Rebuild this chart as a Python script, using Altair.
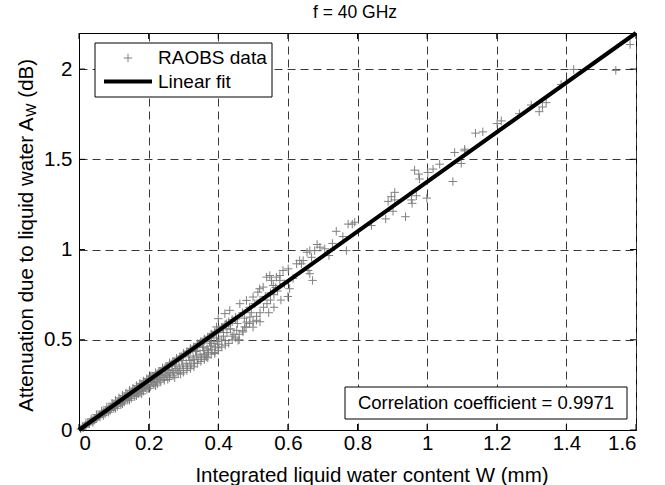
import altair as alt
import pandas as pd

FONT = "Liberation Sans"

# RAOBS scatter data: integrated liquid water W (mm) and attenuation A_W (dB)
raobs_w = [
    0.005, 0.010, 0.012, 0.018, 0.020, 0.025, 0.028, 0.030, 0.034, 0.037, 0.040, 0.043, 0.046, 0.050, 0.052,
    0.055, 0.058, 0.060, 0.063, 0.066, 0.068, 0.070, 0.073, 0.076, 0.078, 0.080, 0.083, 0.086, 0.088, 0.090,
    0.093, 0.096, 0.098, 0.100, 0.102, 0.105, 0.108, 0.110, 0.112, 0.115, 0.118, 0.120, 0.122, 0.125, 0.128,
    0.130, 0.132, 0.135, 0.138, 0.140, 0.142, 0.145, 0.148, 0.150, 0.152, 0.155, 0.158, 0.160, 0.163, 0.165,
    0.168, 0.170, 0.172, 0.175, 0.178, 0.180, 0.182, 0.185, 0.188, 0.190, 0.192, 0.195, 0.198, 0.200, 0.200,
    0.150, 0.180, 0.190,
    0.205, 0.208, 0.210, 0.212, 0.215, 0.218, 0.220, 0.222, 0.225, 0.228, 0.230, 0.232, 0.235, 0.238, 0.240,
    0.242, 0.245, 0.248, 0.250, 0.252, 0.255, 0.258, 0.260, 0.262, 0.265, 0.268, 0.270, 0.272, 0.275, 0.278,
    0.280, 0.282, 0.285, 0.288, 0.290, 0.292, 0.295, 0.298, 0.300, 0.300, 0.255, 0.270, 0.285,
    0.305, 0.308, 0.310, 0.312, 0.315, 0.318, 0.320, 0.322, 0.325, 0.328, 0.330, 0.332, 0.335, 0.338, 0.340,
    0.342, 0.345, 0.348, 0.350, 0.352, 0.355, 0.358, 0.360, 0.362, 0.365, 0.368, 0.370, 0.372, 0.375, 0.378,
    0.380, 0.382, 0.385, 0.388, 0.390, 0.392, 0.395, 0.398, 0.400, 0.402, 0.405, 0.410, 0.412, 0.415, 0.420,
    0.425, 0.430, 0.435, 0.440, 0.445, 0.450,
    0.514, 0.500, 0.481, 0.462, 0.510, 0.491, 0.476, 0.471, 0.453, 0.481, 0.457, 0.433, 0.419, 0.424, 0.400,
    0.395, 0.376, 0.381, 0.371, 0.357, 0.347, 0.366, 0.390, 0.338,
    0.773, 0.758, 0.739, 0.768, 0.728, 0.718, 0.706, 0.692, 0.677, 0.684, 0.663, 0.655, 0.668, 0.644, 0.634,
    0.625, 0.639, 0.663, 0.671, 0.658, 0.601, 0.586, 0.577, 0.567, 0.548, 0.539, 0.553, 0.577, 0.605, 0.558,
    0.529, 0.519,
    1.079, 1.108, 1.098, 1.074, 1.036, 1.017, 1.002, 0.978, 0.976, 0.964, 0.999, 0.969, 0.955, 0.957, 0.938,
    0.907, 0.897, 0.888, 0.907, 0.902, 0.881, 0.840, 0.792, 0.785,
    1.583, 1.542, 1.421, 1.385, 1.342, 1.331, 1.322, 1.299, 1.265, 1.213, 1.201, 1.160, 1.139, 1.108,
    # lower part of the band
    0.030, 0.045, 0.060, 0.075, 0.090, 0.100, 0.110, 0.120, 0.130, 0.140, 0.150, 0.160, 0.170, 0.175, 0.185,
    0.195, 0.205, 0.215, 0.225, 0.235, 0.245, 0.260, 0.275, 0.290, 0.300, 0.310, 0.320, 0.330, 0.340, 0.350,
    0.360, 0.370, 0.380, 0.390, 0.400, 0.410, 0.420, 0.430, 0.440, 0.450, 0.460, 0.470, 0.480, 0.490, 0.500,
    0.510, 0.520, 0.530, 0.540, 0.550, 0.560, 0.570,
    # upper part of the band
    0.210, 0.230, 0.250, 0.270, 0.290, 0.310, 0.330, 0.350, 0.370, 0.390, 0.410, 0.430, 0.450, 0.470, 0.490,
    0.505, 0.520, 0.535, 0.550, 0.565, 0.590, 0.615,
    # middle of the band
    0.215, 0.235, 0.255, 0.275, 0.295, 0.315, 0.335, 0.355, 0.375, 0.395, 0.415, 0.435, 0.455, 0.475, 0.495,
    # lower outliers
    0.330, 0.360, 0.400, 0.420, 0.440, 0.460, 0.500, 0.520, 0.545, 0.560, 0.580, 0.600,
    # above the fit line, small W
    0.020, 0.035, 0.050, 0.065, 0.080, 0.095, 0.105, 0.115, 0.125, 0.135, 0.145, 0.155, 0.165, 0.175, 0.185,
    0.195, 0.205, 0.220, 0.240, 0.260, 0.280, 0.300, 0.320, 0.340, 0.360, 0.380, 0.400, 0.420, 0.440,
    # below the fit line, small W
    0.040, 0.070, 0.085, 0.105, 0.125, 0.145, 0.165, 0.180, 0.200, 0.220,
]
raobs_a = [
    0.006, 0.015, 0.013, 0.026, 0.025, 0.036, 0.035, 0.040, 0.048, 0.050, 0.053, 0.060, 0.061, 0.070, 0.068,
    0.078, 0.077, 0.085, 0.083, 0.093, 0.090, 0.100, 0.097, 0.107, 0.100, 0.113, 0.110, 0.120, 0.113, 0.127,
    0.122, 0.135, 0.128, 0.140, 0.130, 0.148, 0.140, 0.155, 0.145, 0.162, 0.152, 0.170, 0.158, 0.175, 0.165,
    0.183, 0.170, 0.190, 0.178, 0.196, 0.182, 0.203, 0.190, 0.210, 0.195, 0.218, 0.200, 0.225, 0.210, 0.232,
    0.215, 0.238, 0.220, 0.245, 0.228, 0.252, 0.233, 0.258, 0.240, 0.266, 0.245, 0.272, 0.252, 0.280, 0.262,
    0.190, 0.220, 0.235,
    0.285, 0.270, 0.292, 0.262, 0.298, 0.280, 0.305, 0.270, 0.312, 0.290, 0.318, 0.280, 0.325, 0.300, 0.332,
    0.290, 0.340, 0.310, 0.346, 0.300, 0.352, 0.320, 0.360, 0.310, 0.366, 0.330, 0.372, 0.320, 0.378, 0.340,
    0.385, 0.330, 0.392, 0.350, 0.400, 0.310, 0.405, 0.360, 0.412, 0.340, 0.280, 0.300, 0.315,
    0.420, 0.370, 0.425, 0.350, 0.432, 0.385, 0.440, 0.360, 0.447, 0.400, 0.453, 0.370, 0.460, 0.410, 0.466,
    0.390, 0.474, 0.420, 0.480, 0.400, 0.488, 0.440, 0.495, 0.410, 0.500, 0.450, 0.508, 0.430, 0.515, 0.465,
    0.522, 0.445, 0.528, 0.480, 0.536, 0.460, 0.542, 0.490, 0.550, 0.475, 0.557, 0.500, 0.565, 0.520, 0.575,
    0.540, 0.590, 0.560, 0.600, 0.530, 0.615,
    0.764, 0.737, 0.718, 0.700, 0.608, 0.626, 0.571, 0.543, 0.552, 0.598, 0.497, 0.663, 0.645, 0.589, 0.617,
    0.571, 0.515, 0.479, 0.442, 0.460, 0.479, 0.405, 0.424, 0.442,
    1.141, 1.072, 1.101, 0.994, 1.034, 0.967, 1.004, 1.013, 0.994, 1.028, 0.994, 0.985, 0.957, 0.939, 0.939,
    0.921, 0.921, 0.866, 0.829, 0.884, 0.893, 0.884, 0.856, 0.847, 0.856, 0.847, 0.829, 0.829, 0.783, 0.801,
    0.792, 0.783,
    1.538, 1.547, 1.477, 1.377, 1.473, 1.446, 1.427, 1.391, 1.418, 1.440, 1.285, 1.298, 1.275, 1.256, 1.182,
    1.317, 1.293, 1.267, 1.275, 1.212, 1.170, 1.133, 1.151, 1.141,
    2.136, 1.993, 1.998, 1.915, 1.814, 1.790, 1.764, 1.801, 1.753, 1.713, 1.698, 1.652, 1.645, 1.556,
    # lower part of the band
    0.035, 0.055, 0.072, 0.090, 0.108, 0.120, 0.130, 0.140, 0.155, 0.165, 0.175, 0.185, 0.200, 0.205, 0.215,
    0.225, 0.240, 0.250, 0.255, 0.265, 0.275, 0.290, 0.290, 0.330, 0.320, 0.330, 0.340, 0.350, 0.370, 0.380,
    0.390, 0.400, 0.420, 0.430, 0.440, 0.460, 0.470, 0.480, 0.500, 0.510, 0.530, 0.550, 0.570, 0.590, 0.600,
    0.630, 0.650, 0.680, 0.700, 0.720, 0.750, 0.770,
    # upper part of the band
    0.300, 0.325, 0.350, 0.380, 0.405, 0.435, 0.460, 0.490, 0.515, 0.545, 0.570, 0.600, 0.625, 0.650, 0.680,
    0.700, 0.720, 0.740, 0.760, 0.790, 0.810, 0.840,
    # middle of the band
    0.285, 0.310, 0.335, 0.360, 0.385, 0.410, 0.435, 0.460, 0.490, 0.510, 0.540, 0.560, 0.590, 0.620, 0.650,
    # lower outliers
    0.390, 0.420, 0.455, 0.495, 0.520, 0.500, 0.570, 0.600, 0.650, 0.680, 0.720, 0.740,
    # above the fit line, small W
    0.040, 0.062, 0.085, 0.105, 0.128, 0.148, 0.165, 0.178, 0.192, 0.205, 0.220, 0.232, 0.246, 0.258, 0.272,
    0.285, 0.298, 0.318, 0.345, 0.372, 0.398, 0.425, 0.452, 0.478, 0.505, 0.532, 0.558, 0.585, 0.612,
    # below the fit line, small W
    0.042, 0.080, 0.098, 0.120, 0.145, 0.165, 0.190, 0.200, 0.230, 0.245,
]

# Linear fit end points
fit_w = [0.0, 1.6]
fit_a = [0.0, 2.2]

x_ticks = [0, 0.2, 0.4, 0.6, 0.8, 1.0, 1.2, 1.4, 1.6]
y_ticks = [0, 0.5, 1.0, 1.5, 2.0]

title_text = "f = 40 GHz"
x_title = "Integrated liquid water content W (mm)"
y_title_main = "Attenuation due to liquid water A"
y_title_sub = "W"
y_title_end = "(dB)"
legend_labels = ["RAOBS data", "Linear fit"]
corr_text = "Correlation coefficient = 0.9971"

W, H = 557, 397
PLUS = "M-1,0L1,0M0,-1L0,1"
GRAY = "#808080"

pts = pd.DataFrame({"W": raobs_w, "A": raobs_a})
fit = pd.DataFrame({"W": fit_w, "A": fit_a})
xt = pd.DataFrame({"v": x_ticks})
yt = pd.DataFrame({"v": y_ticks})

xscale = alt.Scale(domain=[0, 1.6], nice=False, zero=False)
yscale = alt.Scale(domain=[0, 2.2], nice=False, zero=False)

xaxis = alt.Axis(values=x_ticks, format="~g", title=None, grid=True, ticks=False,
                 labelPadding=3, labelFontSize=20.5)
yaxis = alt.Axis(values=y_ticks, format="~g", title=None, grid=True, ticks=False,
                 labelPadding=7, labelFontSize=20.5)

scatter = alt.Chart(pts).mark_point(
    shape=PLUS, filled=False, stroke=GRAY, strokeWidth=1, size=72, opacity=1
).encode(
    x=alt.X("W:Q", scale=xscale, axis=xaxis),
    y=alt.Y("A:Q", scale=yscale, axis=yaxis),
)

line = alt.Chart(fit).mark_line(color="black", strokeWidth=4).encode(
    x=alt.X("W:Q", scale=xscale), y=alt.Y("A:Q", scale=yscale)
)

# inward tick marks (Matlab style)
xt_bot = alt.Chart(xt).mark_rule(color="black", strokeWidth=1).encode(
    x=alt.X("v:Q", scale=xscale), y=alt.value(H), y2=alt.value(H - 6))
xt_top = alt.Chart(xt).mark_rule(color="black", strokeWidth=1).encode(
    x=alt.X("v:Q", scale=xscale), y=alt.value(0), y2=alt.value(6))
yt_left = alt.Chart(yt).mark_rule(color="black", strokeWidth=1).encode(
    y=alt.Y("v:Q", scale=yscale), x=alt.value(0), x2=alt.value(6))
yt_right = alt.Chart(yt).mark_rule(color="black", strokeWidth=1).encode(
    y=alt.Y("v:Q", scale=yscale), x=alt.value(W), x2=alt.value(W - 6))

one = pd.DataFrame({"k": [0]})

def txt(s, x, y, size=19, align="left", baseline="middle", angle=0):
    kw = dict(text=s, font=FONT, fontSize=size, align=align, baseline=baseline, color="black")
    if angle:
        kw["angle"] = angle
    return alt.Chart(one).mark_text(**kw).encode(x=alt.value(x), y=alt.value(y))

# Legend
leg_box = alt.Chart(one).mark_rect(fill="white", stroke="black", strokeWidth=1).encode(
    x=alt.value(16), x2=alt.value(193), y=alt.value(10), y2=alt.value(64))
leg_pt = alt.Chart(one).mark_point(shape=PLUS, filled=False, stroke=GRAY, strokeWidth=1, size=72, opacity=1).encode(
    x=alt.value(49), y=alt.value(25))
leg_line = alt.Chart(one).mark_rule(color="black", strokeWidth=4).encode(
    x=alt.value(25), x2=alt.value(73), y=alt.value(48.5))
leg_t1 = txt(legend_labels[0], 79, 25)
leg_t2 = txt(legend_labels[1], 79, 48.5)

# Correlation box
corr_box = alt.Chart(one).mark_rect(fill="white", stroke="black", strokeWidth=1).encode(
    x=alt.value(266), x2=alt.value(548), y=alt.value(354), y2=alt.value(386))
corr_t = txt(corr_text, 407, 370, size=18.5, align="center")

# Titles
t_title = txt(title_text, 276, -20, size=17.5, align="center")
t_x = txt(x_title, 293, 448.5, size=20.5, align="center", baseline="alphabetic")
Y0 = 378.7
y_main = txt(y_title_main, -46, Y0, size=20.5, baseline="alphabetic", angle=270)
y_sub = txt(y_title_sub, -43, Y0 - 295, size=14, baseline="alphabetic", angle=270)
y_end = txt(y_title_end, -46, Y0 - 295 - 19, size=20.5, baseline="alphabetic", angle=270)

chart = alt.layer(
    scatter, line, xt_bot, xt_top, yt_left, yt_right,
    leg_box, leg_pt, leg_line, leg_t1, leg_t2, corr_box, corr_t,
    t_title, t_x, y_main, y_sub, y_end,
).properties(
    width=W, height=H,
    autosize=alt.AutoSizeParams(type="none"),
    padding={"left": 79, "top": 33, "right": 29, "bottom": 55},
    background="white",
).configure_view(
    stroke="black", strokeWidth=1
).configure_axis(
    labelFont=FONT, labelColor="black", domainColor="black", domainWidth=1,
    gridColor="#3a3a3a", gridDash=[8, 5], gridWidth=1, gridOpacity=1,
)

chart.save("out.html", embed_options={"renderer": "svg", "actions": False})
